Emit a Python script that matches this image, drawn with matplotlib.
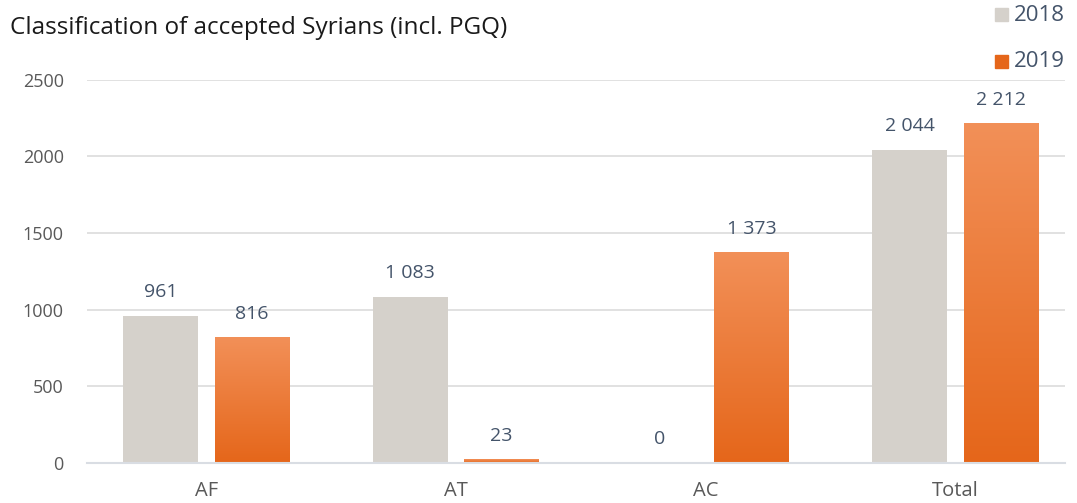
import matplotlib.pyplot as plt
import numpy as np
from matplotlib.colors import LinearSegmentedColormap
from matplotlib.patches import Rectangle

categories = ["AF", "AT", "AC", "Total"]
vals_2018 = [961, 1083, 0, 2044]
vals_2019 = [816, 23, 1373, 2212]
labels_2018 = ["961", "1 083", "0", "2 044"]
labels_2019 = ["816", "23", "1 373", "2 212"]

grey = "#d5d1cb"
orange_top = "#f29058"
orange_bot = "#e5661a"
label_col = "#44546a"
tick_col = "#595959"

plt.rcParams['font.family'] = ['Open Sans', 'DejaVu Sans']

fig = plt.figure(figsize=(10.77, 5.03), dpi=100)
ax = fig.add_axes([0.081, 0.0795, 0.908, 0.762])

x = np.arange(len(categories))
w = 0.30
off = 0.183
b1 = ax.bar(x - off, vals_2018, w, color=grey, zorder=2)
b2 = ax.bar(x + off, vals_2019, w, color="none", zorder=2)

# orange gradient fill
cmap = LinearSegmentedColormap.from_list("og", [orange_bot, orange_top])
grad = np.linspace(0, 1, 256).reshape(-1, 1)
for r in b2:
    x0, y0 = r.get_x(), r.get_y()
    ww, hh = r.get_width(), r.get_height()
    if hh <= 0:
        continue
    ax.imshow(grad, cmap=cmap, origin="lower", aspect="auto",
              extent=[x0, x0 + ww, y0, y0 + max(hh, 12)], zorder=2)

for r, t in zip(b1, labels_2018):
    ax.text(r.get_x() + r.get_width() / 2, r.get_height() + 95, t,
            ha="center", va="bottom", fontsize=14, color=label_col)
for r, t in zip(b2, labels_2019):
    ax.text(r.get_x() + r.get_width() / 2, r.get_height() + 95, t,
            ha="center", va="bottom", fontsize=14, color=label_col)

ax.set_xlim(-0.477, 3.44)
ax.set_ylim(0, 2500)
ax.set_yticks([0, 500, 1000, 1500, 2000, 2500])
ax.set_xticks(x)
ax.set_xticklabels(categories)
ax.yaxis.grid(True, color="#dcdcdc", linewidth=1.2, zorder=0)
ax.set_axisbelow(True)
for s in ["top", "right", "left"]:
    ax.spines[s].set_visible(False)
ax.spines["bottom"].set_color("#d9dde3")
ax.spines["bottom"].set_linewidth(1.5)
ax.tick_params(axis="y", length=0, labelsize=13, colors=tick_col, pad=17)
ax.tick_params(axis="x", length=0, labelsize=14.5, colors=tick_col, pad=13)

fig.text(0.009, 0.945, "Classification of accepted Syrians (incl. PGQ)",
         fontsize=17.5, color="#1a1a1a", va="center", ha="left")

# legend
fig.patches.append(Rectangle((0.924, 0.958), 0.012, 0.026, transform=fig.transFigure,
                             color=grey))
fig.patches.append(Rectangle((0.924, 0.865), 0.012, 0.026, transform=fig.transFigure,
                             color=orange_bot))
fig.text(0.941, 0.970, "2018", fontsize=16, color=label_col, va="center")
fig.text(0.941, 0.877, "2019", fontsize=16, color=label_col, va="center")

fig.savefig("out.png", dpi=100)
